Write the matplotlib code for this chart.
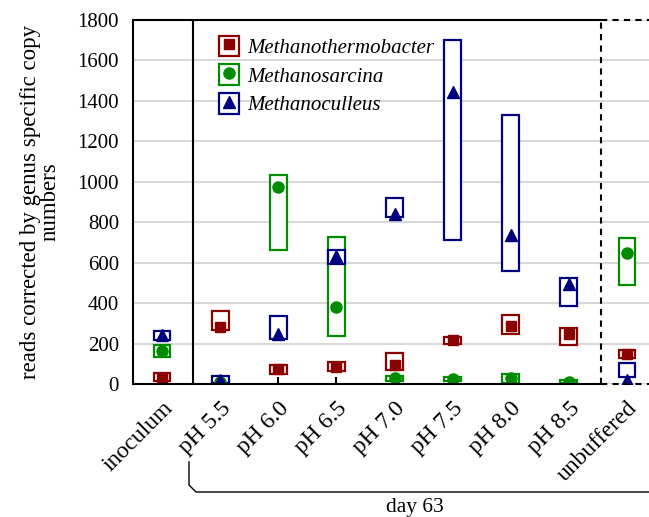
import numpy as np
import matplotlib.pyplot as plt
from matplotlib.patches import Rectangle
from matplotlib.lines import Line2D

plt.rcParams['font.family'] = ['Liberation Serif', 'DejaVu Serif']

categories = ["inoculum", "pH 5.5", "pH 6.0", "pH 6.5", "pH 7.0",
              "pH 7.5", "pH 8.0", "pH 8.5", "unbuffered"]

# range (low, high) and mean per genus
thermo_low = [15, 265, 50, 62, 70, 200, 245, 195, 128]
thermo_high = [55, 360, 95, 108, 155, 232, 340, 275, 168]
thermo_mean = [32, 283, 72, 85, 95, 216, 288, 245, 148]

sarcina_low = [135, 0, 663, 235, 15, 15, 5, 5, 490]
sarcina_high = [192, 22, 1033, 725, 42, 35, 48, 22, 722]
sarcina_mean = [162, 10, 975, 380, 30, 25, 32, 12, 650]

culleus_low = [216, 5, 222, 592, 825, 712, 560, 385, 36]
culleus_high = [263, 42, 335, 662, 922, 1700, 1330, 525, 105]
culleus_mean = [240, 22, 248, 633, 843, 1445, 735, 495, 22]

red = "#8B0000"
green = "#008C00"
blue = "#000080"

fig = plt.figure(figsize=(6.49, 5.17), dpi=100)
ax = fig.add_axes([133/649, 133/517, 523/649, 364/517])

x = np.arange(len(categories))
series = [
    ("Methanosarcina", sarcina_low, sarcina_high, sarcina_mean, green, "o", 8),
    ("Methanothermobacter", thermo_low, thermo_high, thermo_mean, red, "s", 7),
    ("Methanoculleus", culleus_low, culleus_high, culleus_mean, blue, "^", 8),
]
handles = {}
for name, lo, hi, mean, c, m, ms in series:
    lo = np.array(lo)
    hi = np.array(hi)
    ax.bar(x, hi - lo, bottom=lo, width=0.29, facecolor="white",
           edgecolor=c, linewidth=1.6, zorder=3)
    ax.plot(x, mean, ls="", marker=m, color=c, ms=ms, zorder=5)
    handles[name] = (Rectangle((0, 0), 1, 1, facecolor="white", edgecolor=c, lw=1.6),
                     Line2D([], [], ls="", marker=m, color=c, ms=ms))

ax.set_xlim(-0.5, 8.5)
ax.set_ylim(0, 1800)
ax.set_yticks(range(0, 1801, 200))
ax.set_xticks(x)
ax.set_xticklabels(categories, rotation=45, ha="right", va="top",
                   rotation_mode="anchor", fontsize=17)
ax.tick_params(axis="x", direction="in", length=5, width=1.5, pad=10)
ax.tick_params(axis="y", length=0, labelsize=15, pad=10)
ax.grid(axis="y", color="#d9d9d9", lw=1.5, zorder=0)
ax.set_axisbelow(True)

for s in ["top", "bottom", "right"]:
    ax.spines[s].set_visible(False)
ax.spines["left"].set_linewidth(1.5)

# frame pieces: solid around inoculum and pH series, dashed around unbuffered
split = 7.56
ax.hlines([0, 1800], -0.5, split, colors="black", lw=1.5, clip_on=False, zorder=6)
ax.hlines([0, 1800], split, 8.5, colors="black", lw=1.5, linestyles=(0, (3, 2.5)),
          clip_on=False, zorder=6)
ax.vlines(0.53, 0, 1800, colors="black", lw=1.5, zorder=6)
ax.vlines(split, 0, 1800, colors="black", lw=1.5, linestyles=(0, (3, 2.5)), zorder=6)

ax.set_ylabel("reads corrected by genus specific copy\nnumbers", fontsize=16.5,
              linespacing=0.95, labelpad=12)

order = ["Methanothermobacter", "Methanosarcina", "Methanoculleus"]
ax.legend([handles[n] for n in order], order, loc="upper left",
          bbox_to_anchor=(204/649, 1 - 21/517), bbox_transform=fig.transFigure,
          frameon=False, prop={"style": "italic", "size": 15},
          handlelength=1.0, handleheight=1.15, handletextpad=0.4,
          labelspacing=0.3, borderpad=0.2)

# bracket under the day 63 samples
fig.lines.append(Line2D([189/649, 189/649, 196/649, 1.0],
                        [1 - 462/517, 1 - 485/517, 1 - 492/517, 1 - 492/517],
                        transform=fig.transFigure, color="black", lw=1.0))
fig.text(415/649, 1 - 498/517, "day 63", ha="center", va="top", fontsize=15.5)

fig.savefig("out.png", dpi=100)
